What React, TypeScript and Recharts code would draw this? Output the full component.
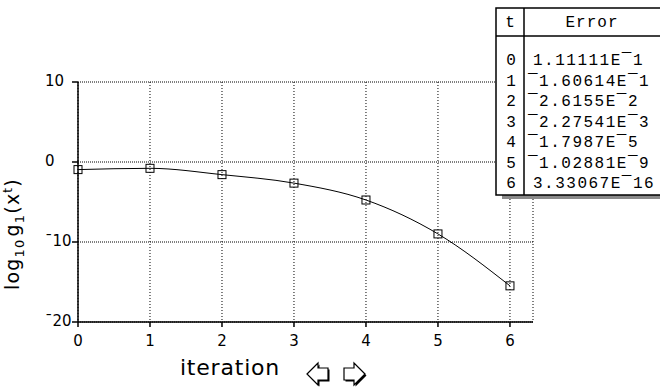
import { CartesianGrid, Line, LineChart, XAxis, YAxis } from "recharts"

const iterations = [0, 1, 2, 3, 4, 5, 6]
const logError = [-0.95, -0.79, -1.58, -2.64, -4.75, -8.99, -15.48]
const errorText = ["1.11111E¯1", "¯1.60614E¯1", "¯2.6155E¯2", "¯2.27541E¯3", "¯1.7987E¯5", "¯1.02881E¯9", "3.33067E¯16"]
const xTicks = [0, 1, 2, 3, 4, 5, 6]
const yTicks = [-20, -10, 0, 10]

const data = iterations.map((t, i) => ({ t, v: logError[i] }))

const tickFont = { fontFamily: "DejaVu Sans", fontSize: 15, fill: "#000" }
const apl = (n: number) => (n < 0 ? "¯" + Math.abs(n) : String(n))

function SquareDot({ cx, cy }: any) {
  if (cx == null || cy == null) return null
  return <rect x={cx - 4} y={cy - 4} width={8} height={8} fill="none" stroke="#000" strokeWidth={1} />
}

function YTick({ x, y, payload }: any) {
  return (
    <text x={x - 25} y={y} dy={-1} dominantBaseline="central" textAnchor="start" {...tickFont}>
      {apl(payload.value)}
    </text>
  )
}

function XTick({ x, y, payload }: any) {
  return (
    <text x={x} y={y} dy={17} textAnchor="middle" {...tickFont}>
      {payload.value}
    </text>
  )
}

function ErrorTable() {
  const left = 496
  const top = 8
  const divX = 524
  const headY = 36
  const rowH = 20.5
  const bottom = 195
  return (
    <g>
      <rect x={left + 6} y={bottom} width={170} height={4} fill="#8a8a8a" />
      <rect x={left} y={top} width={170} height={bottom - top} fill="#fff" stroke="#000" strokeWidth={1.5} />
      <line x1={left} x2={666} y1={headY} y2={headY} stroke="#000" strokeWidth={1.5} />
      <line x1={divX} x2={divX} y1={top} y2={bottom} stroke="#000" strokeWidth={1.5} />
      <g fontFamily="Liberation Mono" fontSize={16} fill="#000">
        <text x={510} y={23} dominantBaseline="central" textAnchor="middle">t</text>
        <text x={592} y={23} dominantBaseline="central" textAnchor="middle" letterSpacing={1}>Error</text>
        {iterations.map((t, i) => (
          <g key={t}>
            <text x={511} y={61 + i * rowH} dominantBaseline="central" textAnchor="middle">{t}</text>
            <text
              x={errorText[i].startsWith("¯") ? 528 : 533}
              y={61 + i * rowH}
              dominantBaseline="central"
              letterSpacing={1.5}
            >
              {errorText[i]}
            </text>
          </g>
        ))}
      </g>
    </g>
  )
}

function Arrows() {
  const leftPts = "307,374 318,363 318,368 328,368 328,380 318,380 318,385"
  const rightPts = "365,374 354,363 354,368 344,368 344,380 354,380 354,385"
  return (
    <g>
      <polygon points={leftPts} transform="translate(1.5,1.5)" fill="#000" />
      <polygon points={leftPts} fill="#fff" stroke="#000" strokeWidth={1.2} />
      <polygon points={rightPts} transform="translate(1.5,1.5)" fill="#000" />
      <polygon points={rightPts} fill="#fff" stroke="#000" strokeWidth={1.2} />
    </g>
  )
}

function Overlay() {
  return (
    <svg width={660} height={387} style={{ position: "absolute", left: 0, top: 0, pointerEvents: "none" }}>
      <text
        transform="translate(19,290) rotate(-90)"
        textAnchor="start"
        fontFamily="DejaVu Sans"
        fontSize={19}
        letterSpacing={1.2}
        fill="#000"
      >
        <tspan>log</tspan>
        <tspan fontSize={13} dy={5}>10</tspan>
        <tspan dy={-5} dx={2}>g</tspan>
        <tspan fontSize={13} dy={5}>1</tspan>
        <tspan dy={-5}>(x</tspan>
        <tspan fontSize={12} dy={-7}>t</tspan>
        <tspan dy={7}>)</tspan>
      </text>
      <text x={230} y={375} textAnchor="middle" fontFamily="DejaVu Sans" fontSize={22} letterSpacing={0.8} fill="#000">
        iteration
      </text>
      <Arrows />
      <ErrorTable />
    </svg>
  )
}

export default function App() {
  return (
    <div style={{ position: "absolute", left: 0, top: 0, width: 660, height: 387, overflow: "hidden", background: "#fff" }}>
      <LineChart width={660} height={387} data={data} margin={{ top: 82, right: 127, bottom: 35, left: 38 }}>
        <CartesianGrid stroke="#000" strokeDasharray="1 1" vertical={false} />
        <CartesianGrid stroke="#000" strokeDasharray="1 2" horizontal={false} />
        <XAxis
          dataKey="t"
          type="number"
          domain={[0, 6.32]}
          ticks={xTicks}
          height={30}
          stroke="#000"
          strokeWidth={1.5}
          tickSize={5}
          tick={<XTick />}
        />
        <YAxis
          type="number"
          domain={[-20, 10]}
          ticks={yTicks}
          width={40}
          stroke="#000"
          strokeWidth={1.5}
          tickSize={6}
          tick={<YTick />}
        />
        <Line
          dataKey="v"
          type="monotone"
          stroke="#000"
          strokeWidth={1}
          dot={<SquareDot />}
          activeDot={false}
          isAnimationActive={false}
        />
      </LineChart>
      <Overlay />
    </div>
  )
}
